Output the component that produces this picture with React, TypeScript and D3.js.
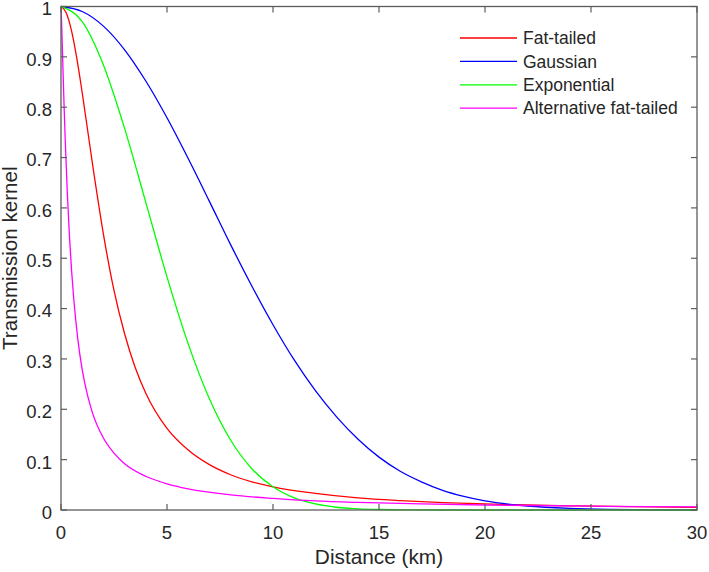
import React from "react";
import * as d3 from "d3";

const W = 709;
const H = 572;
const M = { left: 61, right: 697, top: 6.5, bottom: 510 };

const xTicks = [0, 5, 10, 15, 20, 25, 30];
const yTicks = [0, 0.1, 0.2, 0.3, 0.4, 0.5, 0.6, 0.7, 0.8, 0.9, 1];

const seriesNames = ["Fat-tailed", "Gaussian", "Exponential", "Alternative fat-tailed"];
const seriesColors = ["#ff0000", "#0000ff", "#00ff00", "#ff00ff"];

const fatX = [0, 0.25, 0.5, 0.75, 1, 1.5, 2, 2.5, 3, 3.5, 4, 5, 6, 7, 8, 9, 10, 12, 14, 16, 18, 20, 22, 24, 26, 28, 30];
const fatY = [1, 0.987, 0.951, 0.896, 0.829, 0.683, 0.548, 0.436, 0.35, 0.283, 0.232, 0.162, 0.119, 0.09, 0.07, 0.056, 0.046, 0.033, 0.024, 0.0186, 0.0147, 0.012, 0.0099, 0.0083, 0.0071, 0.0061, 0.0054];

const gaussX = [0, 1, 2, 3, 4, 5, 6, 7, 8, 9, 10, 11, 12, 13, 14, 15, 16, 17, 18, 19, 20, 22, 24, 26, 28, 30];
const gaussY = [1, 0.99, 0.961, 0.914, 0.852, 0.779, 0.698, 0.613, 0.527, 0.445, 0.368, 0.298, 0.237, 0.185, 0.141, 0.105, 0.077, 0.056, 0.039, 0.027, 0.018, 0.0079, 0.0032, 0.0012, 0.0004, 0.0001];

const expX = [0, 1, 2, 3, 4, 5, 6, 7, 8, 9, 10, 11, 12, 13, 14, 15, 16, 18, 20, 30];
const expY = [1, 0.97, 0.884, 0.758, 0.611, 0.463, 0.33, 0.221, 0.139, 0.082, 0.046, 0.024, 0.012, 0.0055, 0.0024, 0.001, 0.0004, 0.00005, 0, 0];

const altX = [0, 0.02, 0.05, 0.1, 0.15, 0.2, 0.3, 0.4, 0.5, 0.6, 0.8, 1, 1.25, 1.5, 2, 2.5, 3, 4, 5, 6, 8, 10, 12, 14, 17, 20, 25, 30];
const altY = [1, 0.979, 0.938, 0.866, 0.797, 0.734, 0.628, 0.543, 0.475, 0.42, 0.337, 0.279, 0.228, 0.191, 0.143, 0.113, 0.092, 0.067, 0.052, 0.042, 0.03, 0.023, 0.018, 0.015, 0.012, 0.0099, 0.0076, 0.0061];

const seriesX = [fatX, gaussX, expX, altX];
const seriesY = [fatY, gaussY, expY, altY];

export default function App() {
  const x = d3.scaleLinear().domain([0, 30]).range([M.left, M.right]);
  const y = d3.scaleLinear().domain([0, 1]).range([M.bottom, M.top]);
  const line = d3
    .line<[number, number]>()
    .x((d) => x(d[0]))
    .y((d) => y(d[1]))
    .curve(d3.curveMonotoneX);

  const axisColor = "#5c5c5c";
  const textColor = "#262626";
  const font = "Arial, 'Liberation Sans', Helvetica, sans-serif";
  const tl = 6;

  return (
    <svg
      width={W}
      height={H}
      style={{ position: "absolute", left: 0, top: 0, background: "#fff" }}
      fontFamily={font}
    >
      <rect x={0} y={0} width={W} height={H} fill="#fff" />
      <defs>
        <clipPath id="plotclip">
          <rect x={M.left} y={M.top - 2} width={M.right - M.left} height={M.bottom - M.top + 4} />
        </clipPath>
      </defs>
      {/* curves */}
      <g clipPath="url(#plotclip)">
        {seriesX.map((xs, i) => (
          <path
            key={i}
            d={line(xs.map((v, j) => [v, seriesY[i][j]] as [number, number])) || ""}
            fill="none"
            stroke={seriesColors[i]}
            strokeWidth={1.3}
          />
        ))}
      </g>
      {/* box */}
      <rect
        x={M.left}
        y={M.top}
        width={M.right - M.left}
        height={M.bottom - M.top}
        fill="none"
        stroke={axisColor}
        strokeWidth={1.3}
      />
      {/* x ticks */}
      {xTicks.map((t) => (
        <g key={"x" + t}>
          <line x1={x(t)} x2={x(t)} y1={M.bottom} y2={M.bottom - tl} stroke={axisColor} strokeWidth={1.2} />
          <line x1={x(t)} x2={x(t)} y1={M.top} y2={M.top + tl} stroke={axisColor} strokeWidth={1.2} />
          <text x={x(t)} y={539} textAnchor="middle" fontSize={18.5} fill={textColor}>
            {t}
          </text>
        </g>
      ))}
      {/* y ticks */}
      {yTicks.map((t) => (
        <g key={"y" + t}>
          <line x1={M.left} x2={M.left + tl} y1={y(t)} y2={y(t)} stroke={axisColor} strokeWidth={1.2} />
          <line x1={M.right} x2={M.right - tl} y1={y(t)} y2={y(t)} stroke={axisColor} strokeWidth={1.2} />
          <text x={52} y={y(t)} dy="0.48em" textAnchor="end" fontSize={18.5} fill={textColor}>
            {t}
          </text>
        </g>
      ))}
      {/* axis labels */}
      <text x={(M.left + M.right) / 2} y={564} textAnchor="middle" fontSize={20.8} fill={textColor}>
        Distance (km)
      </text>
      <text
        transform={`translate(17, ${(M.top + M.bottom) / 2}) rotate(-90)`}
        textAnchor="middle"
        fontSize={20.6}
        fill={textColor}
      >
        Transmission kernel
      </text>
      {/* legend */}
      {seriesNames.map((name, i) => {
        const cy = 38 + i * 23.4;
        return (
          <g key={name}>
            <line x1={460} x2={517} y1={cy} y2={cy} stroke={seriesColors[i]} strokeWidth={1.3} />
            <text x={523} y={cy} dy="0.35em" fontSize={17.5} fill={textColor}>
              {name}
            </text>
          </g>
        );
      })}
    </svg>
  );
}
